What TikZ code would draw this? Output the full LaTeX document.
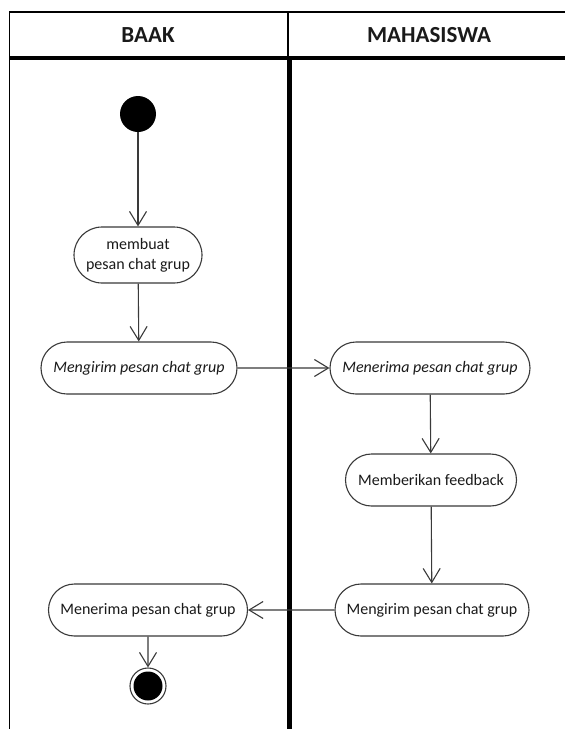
\documentclass[tikz,border=0pt]{standalone}
\usepackage{fontspec}
\setmainfont{Carlito}
\usetikzlibrary{arrows.meta,shapes.misc}
\definecolor{linec}{HTML}{3A3A3A}
\definecolor{txt}{HTML}{1A1A1A}
\begin{document}
\begin{tikzpicture}[x=1pt,y=-1pt,
  act/.style={rounded rectangle, draw=linec, line width=1.1pt, minimum height=52pt,
    inner xsep=0pt, font=\fontsize{16}{20}\selectfont, text=txt, align=center},
  itact/.style={act, font=\fontsize{16}{20}\selectfont\itshape},
  flow/.style={draw=linec, line width=1.1pt, -{Straight Barb[length=14pt,width=17pt]}},
  lane/.style={draw=black, line width=1.5pt},
  head/.style={font=\fontsize{23}{27}\selectfont\bfseries, text=txt}
]
\useasboundingbox (0,0) rectangle (565,729);
\fill[white] (0,0) rectangle (565,729);
% frame
\draw[lane] (9.5,729) -- (9.5,12) -- (565,12);
\draw[lane] (288,12) -- (288,58);
\draw[black, line width=3.5pt] (9.5,58) -- (565,58);
\draw[black, line width=4.5pt] (289.5,58) -- (289.5,729);
\node[head] (h1) at (148,35) {BAAK};
\node[head] (h2) at (429,35) {MAHASISWA};
% nodes
\node[circle, fill=black, minimum size=36pt, inner sep=0pt] (start) at (138,114) {};
\node[act, minimum width=128pt, minimum height=56pt] (a1) at (138,255) {membuat\\pesan chat grup};
\node[itact, minimum width=196pt] (a2) at (139,368) {Mengirim pesan chat grup};
\node[itact, minimum width=200pt] (b1) at (430,368) {Menerima pesan chat grup};
\node[act, minimum width=171pt] (b2) at (431,480) {Memberikan feedback};
\node[act, minimum width=194pt] (b3) at (432,610) {Mengirim pesan chat grup};
\node[act, minimum width=199pt] (a3) at (148,610) {Menerima pesan chat grup};
\node[circle, draw=linec, line width=1.1pt, minimum size=36pt, inner sep=0pt] (end) at (148,686) {};
\fill[black] (end.center) circle (14.5pt);
% flows
\draw[flow] (start) -- (a1);
\draw[flow] (a1) -- (a2);
\draw[flow] (a2) -- (b1);
\draw[flow] (b1) -- (b2);
\draw[flow] (b2) -- (b3);
\draw[flow] (b3) -- (a3);
\draw[flow] (a3) -- (end);
\end{tikzpicture}
\end{document}
